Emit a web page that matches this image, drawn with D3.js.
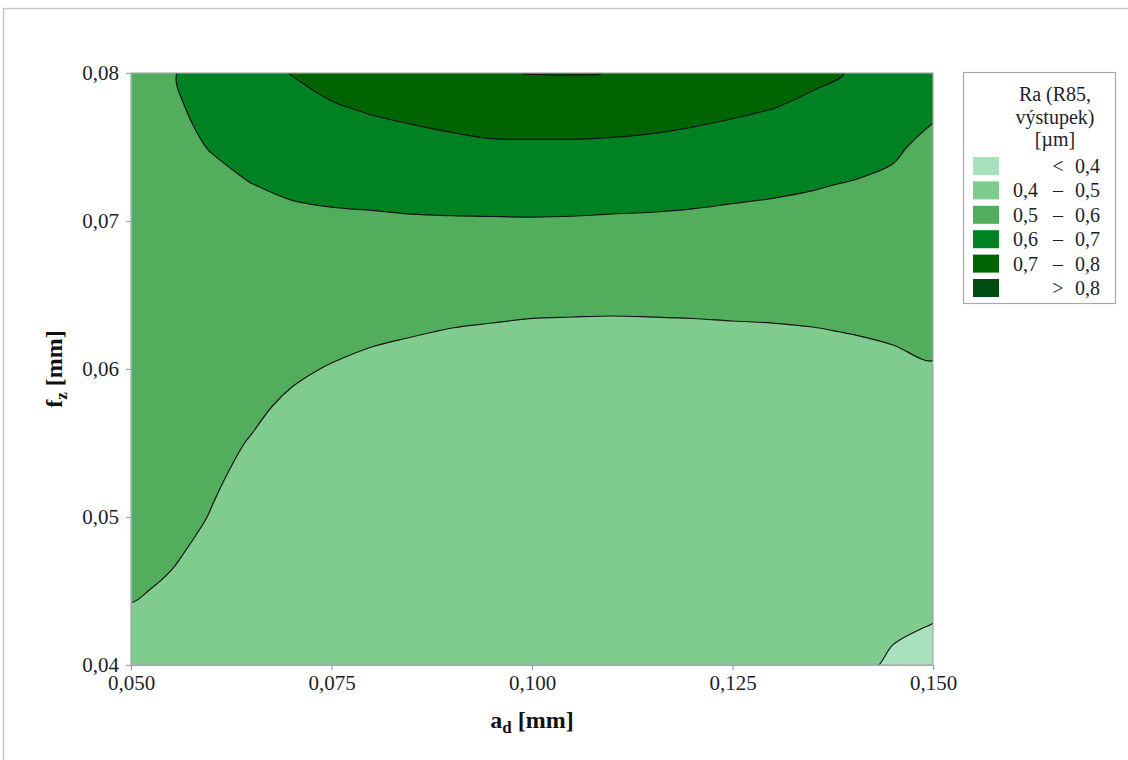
<!DOCTYPE html>
<html>
<head>
<meta charset="utf-8">
<script src="https://cdn.jsdelivr.net/npm/d3@7"></script>
<style>
  body { margin: 0; background: #fff; }
  text { font-family: "Liberation Serif", "Times New Roman", serif; }
</style>
</head>
<body>
<svg id="chart" width="1128" height="760"></svg>
<script>
// Measurement grid: depth of cut a_d [mm] and feed per tooth f_z [mm]
const adGrid = [0.050, 0.055, 0.060, 0.065, 0.070, 0.075, 0.080, 0.085, 0.090, 0.095, 0.100,
                0.105, 0.110, 0.115, 0.120, 0.125, 0.130, 0.135, 0.140, 0.145, 0.150];
const fzGrid = [0.0400, 0.0425, 0.0450, 0.0475, 0.0500, 0.0525, 0.0550, 0.0575, 0.0600,
                0.0625, 0.0650, 0.0675, 0.0700, 0.0725, 0.0750, 0.0775, 0.0800];

// Ra [µm], one array per a_d value, listed from f_z = 0.040 upwards to 0.080
const raColumns = [
  [0.475, 0.490, 0.5045, 0.517, 0.530, 0.540, 0.550, 0.553, 0.556, 0.559, 0.562, 0.565, 0.568, 0.571, 0.574, 0.577, 0.580],
  [0.465, 0.478, 0.494, 0.5048, 0.5174, 0.530, 0.540, 0.550, 0.555, 0.560, 0.565, 0.5683, 0.5717, 0.575, 0.581, 0.587, 0.593],
  [0.460, 0.468, 0.478, 0.489, 0.498, 0.506, 0.515, 0.5225, 0.530, 0.5375, 0.545, 0.555, 0.565, 0.584, 0.603, 0.6215, 0.640],
  [0.457, 0.461, 0.466, 0.472, 0.480, 0.4875, 0.497, 0.510, 0.525, 0.540, 0.555, 0.570, 0.585, 0.5996, 0.623, 0.646, 0.670],
  [0.453, 0.456, 0.460, 0.465, 0.470, 0.476, 0.483, 0.491, 0.509, 0.529, 0.548, 0.568, 0.587, 0.610, 0.640, 0.671, 0.702],
  [0.450, 0.4561, 0.4622, 0.4684, 0.4745, 0.4806, 0.4868, 0.4929, 0.4963, 0.5194, 0.5425, 0.5656, 0.5888, 0.6186, 0.6549, 0.6912, 0.727],
  [0.448, 0.451, 0.454, 0.457, 0.461, 0.466, 0.472, 0.478, 0.4843, 0.5107, 0.5371, 0.5636, 0.590, 0.625, 0.6652, 0.7054, 0.745],
  [0.446, 0.449, 0.452, 0.455, 0.458, 0.462, 0.466, 0.470, 0.4744, 0.504, 0.5336, 0.5632, 0.5928, 0.6318, 0.6739, 0.7165, 0.760],
  [0.445, 0.4485, 0.452, 0.456, 0.460, 0.464, 0.469, 0.475, 0.483, 0.4965, 0.5289, 0.5614, 0.5939, 0.6366, 0.6817, 0.728, 0.775],
  [0.444, 0.447, 0.450, 0.4535, 0.457, 0.461, 0.466, 0.472, 0.479, 0.4917, 0.5259, 0.5602, 0.5944, 0.6403, 0.6883, 0.7405, 0.794],
  [0.443, 0.446, 0.449, 0.452, 0.455, 0.459, 0.463, 0.468, 0.475, 0.4868, 0.5229, 0.559, 0.5951, 0.641, 0.6885, 0.744, 0.802],
  [0.442, 0.445, 0.448, 0.451, 0.454, 0.458, 0.462, 0.467, 0.474, 0.4853, 0.5216, 0.5578, 0.5941, 0.6403, 0.6883, 0.7444, 0.803],
  [0.440, 0.443, 0.4465, 0.4495, 0.453, 0.457, 0.461, 0.466, 0.473, 0.4846, 0.5202, 0.5558, 0.5913, 0.6368, 0.6855, 0.7409, 0.799],
  [0.438, 0.441, 0.444, 0.4475, 0.451, 0.455, 0.460, 0.466, 0.474, 0.486, 0.5206, 0.5551, 0.5897, 0.6333, 0.6808, 0.7336, 0.790],
  [0.435, 0.438, 0.4415, 0.445, 0.449, 0.454, 0.460, 0.467, 0.476, 0.488, 0.5209, 0.5538, 0.5867, 0.6275, 0.6738, 0.7226, 0.775],
  [0.430, 0.434, 0.4385, 0.443, 0.448, 0.454, 0.461, 0.469, 0.479, 0.4909, 0.5215, 0.5521, 0.5826, 0.6196, 0.665, 0.7108, 0.758],
  [0.425, 0.430, 0.4355, 0.441, 0.447, 0.454, 0.462, 0.471, 0.482, 0.493, 0.5219, 0.5508, 0.5797, 0.6128, 0.6558, 0.6988, 0.740],
  [0.420, 0.426, 0.432, 0.439, 0.446, 0.454, 0.463, 0.473, 0.485, 0.4964, 0.5232, 0.550, 0.5768, 0.6051, 0.6429, 0.6806, 0.718],
  [0.4125, 0.4215, 0.428, 0.435, 0.442, 0.450, 0.459, 0.468, 0.4778, 0.5016, 0.5254, 0.5492, 0.573, 0.5968, 0.6287, 0.6619, 0.695],
  [0.3933, 0.4056, 0.427, 0.438, 0.449, 0.459, 0.469, 0.478, 0.487, 0.507, 0.527, 0.547, 0.567, 0.587, 0.6108, 0.6414, 0.672],
  [0.384, 0.3981, 0.4122, 0.4263, 0.4403, 0.4544, 0.4685, 0.4825, 0.4966, 0.5116, 0.5269, 0.5422, 0.5575, 0.569, 0.580, 0.611, 0.645]
];

// Contour levels and band colours (lowest band first)
const levels = [0.4, 0.5, 0.6, 0.7, 0.8];
const bandColors = ["#a8e2bc", "#80cc8e", "#52ae5c", "#008222", "#006400", "#004d14"];
const legendRows = [
  ["", "<", "0,4"],
  ["0,4", "–", "0,5"],
  ["0,5", "–", "0,6"],
  ["0,6", "–", "0,7"],
  ["0,7", "–", "0,8"],
  ["", ">", "0,8"]
];
const legendTitle = ["Ra (R85,", "výstupek)", "[µm]"];
const xTicks = [0.050, 0.075, 0.100, 0.125, 0.150];
const yTicks = [0.04, 0.05, 0.06, 0.07, 0.08];

const svg = d3.select("#chart");
const plot = { left: 131, right: 933, top: 73, bottom: 665 };

// Outer frame of the graph window
svg.append("rect")
  .attr("x", 3.5).attr("y", 8.5).attr("width", 1140).attr("height", 800)
  .attr("fill", "#fff").attr("stroke", "#c8c8c8").attr("stroke-width", 1.5);

const x = d3.scaleLinear().domain([adGrid[0], adGrid[adGrid.length - 1]]).range([plot.left, plot.right]);
const y = d3.scaleLinear().domain([fzGrid[0], fzGrid[fzGrid.length - 1]]).range([plot.bottom, plot.top]);

// Flatten the grid for d3.contours (index = i + j * nx)
const nx = adGrid.length, ny = fzGrid.length;
const values = new Array(nx * ny);
for (let i = 0; i < nx; i++) {
  for (let j = 0; j < ny; j++) values[i + j * nx] = raColumns[i][j];
}
const dAd = adGrid[1] - adGrid[0];
const dFz = fzGrid[1] - fzGrid[0];
const bands = d3.contours().size([nx, ny]).thresholds(levels)(values);

// Grid sample (i, j) sits at (i + 0.5, j + 0.5) in contour space
const toPx = ([gx, gy]) => [x(adGrid[0] + (gx - 0.5) * dAd), y(fzGrid[0] + (gy - 0.5) * dFz)];
const ringLine = d3.line().curve(d3.curveCatmullRomClosed.alpha(0.5));
const bandPath = (mp) => mp.coordinates
  .map(poly => poly.map(ring => ringLine(ring.slice(0, -1).map(toPx))).join(""))
  .join("");

svg.append("clipPath").attr("id", "plotClip")
  .append("rect")
  .attr("x", plot.left).attr("y", plot.top)
  .attr("width", plot.right - plot.left).attr("height", plot.bottom - plot.top);

const g = svg.append("g").attr("clip-path", "url(#plotClip)");
g.append("rect")
  .attr("x", plot.left).attr("y", plot.top)
  .attr("width", plot.right - plot.left).attr("height", plot.bottom - plot.top)
  .attr("fill", bandColors[0]);
g.selectAll("path.band").data(bands).join("path")
  .attr("class", "band")
  .attr("d", bandPath)
  .attr("fill-rule", "evenodd")
  .attr("fill", (d, k) => bandColors[k + 1]);
g.selectAll("path.iso").data(bands).join("path")
  .attr("class", "iso")
  .attr("d", bandPath)
  .attr("fill", "none")
  .attr("stroke", "#141414")
  .attr("stroke-width", 1.2)
  .attr("stroke-linejoin", "round");

// Plot frame
svg.append("rect")
  .attr("x", plot.left).attr("y", plot.top)
  .attr("width", plot.right - plot.left).attr("height", plot.bottom - plot.top)
  .attr("fill", "none").attr("stroke", "#a8a8a8").attr("stroke-width", 1.2);

const fmt = (dec) => (d) => d.toFixed(dec).replace(".", ",");

const yAxis = svg.append("g")
  .attr("transform", `translate(${plot.left},0)`)
  .call(d3.axisLeft(y).tickValues(yTicks).tickFormat(fmt(2)).tickSize(5).tickPadding(7));
const xAxis = svg.append("g")
  .attr("transform", `translate(0,${plot.bottom})`)
  .call(d3.axisBottom(x).tickValues(xTicks).tickFormat(fmt(3)).tickSize(5).tickPadding(5));
[xAxis, yAxis].forEach(ax => {
  ax.select(".domain").attr("stroke", "#a8a8a8").attr("stroke-width", 1.2);
  ax.selectAll(".tick line").attr("stroke", "#a0a0a0").attr("stroke-width", 1.2);
  ax.selectAll(".tick text")
    .attr("fill", "#1e1e28")
    .style("font-family", "'Liberation Serif', 'Times New Roman', serif")
    .style("font-size", "21px");
});

// Axis titles
const xTitle = svg.append("text")
  .attr("x", (plot.left + plot.right) / 2).attr("y", 728)
  .attr("text-anchor", "middle")
  .attr("font-size", 24).attr("font-weight", "bold").attr("fill", "#111");
xTitle.append("tspan").text("a");
xTitle.append("tspan").attr("font-size", 17).attr("dy", 5).text("d");
xTitle.append("tspan").attr("dy", -5).text(" [mm]");

const yTitle = svg.append("text")
  .attr("transform", `translate(62,${(plot.top + plot.bottom) / 2}) rotate(-90)`)
  .attr("text-anchor", "middle")
  .attr("font-size", 24).attr("font-weight", "bold").attr("fill", "#111");
yTitle.append("tspan").text("f");
yTitle.append("tspan").attr("font-size", 17).attr("dy", 5).text("z");
yTitle.append("tspan").attr("dy", -5).text(" [mm]");

// Legend
const lg = svg.append("g");
lg.append("rect")
  .attr("x", 963.5).attr("y", 72.5).attr("width", 152).attr("height", 231)
  .attr("fill", "#fff").attr("stroke", "#a8a8a8").attr("stroke-width", 1.2);
lg.selectAll("text.ttl").data(legendTitle).join("text")
  .attr("class", "ttl")
  .attr("x", 1055).attr("y", (d, i) => 101 + i * 22.5)
  .attr("text-anchor", "middle").attr("font-size", 20).attr("fill", "#1e1e28")
  .text(d => d);
const rows = lg.selectAll("g.row").data(legendRows).join("g")
  .attr("class", "row")
  .attr("transform", (d, i) => `translate(0,${157 + i * 24.4})`);
rows.append("rect")
  .attr("x", 973).attr("y", 0).attr("width", 26).attr("height", 18)
  .attr("fill", (d, i) => bandColors[i]);
rows.append("text").attr("x", 1013).attr("y", 16).attr("font-size", 20).attr("fill", "#1e1e28").text(d => d[0]);
rows.append("text").attr("x", 1058).attr("y", 16).attr("text-anchor", "middle").attr("font-size", 20).attr("fill", "#1e1e28").text(d => d[1]);
rows.append("text").attr("x", 1075).attr("y", 16).attr("font-size", 20).attr("fill", "#1e1e28").text(d => d[2]);
</script>
</body>
</html>
